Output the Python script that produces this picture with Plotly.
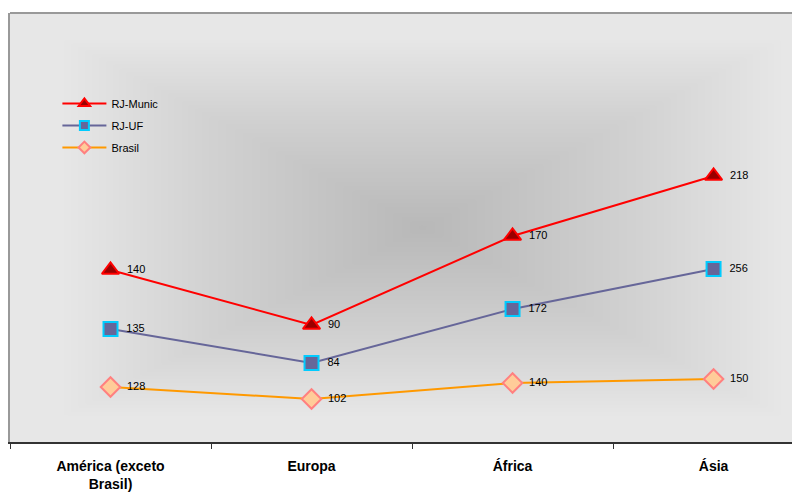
import numpy as np
import plotly.graph_objects as go

categories = ["América (exceto<br>Brasil)", "Europa", "África", "Ásia"]
series_names = ["RJ-Munic", "RJ-UF", "Brasil"]

# plotted heights (hidden axis units)
munic_y = [172, 117, 206, 266]
uf_y = [113, 79, 133, 173]
brasil_y = [55, 43, 59, 63]

# data labels shown
munic_labels = [140, 90, 170, 218]
uf_labels = [135, 84, 172, 256]
brasil_labels = [128, 102, 140, 150]

x = list(range(len(categories)))
XR = [-0.5, 3.43]
YR = [0, 429]

fig = go.Figure()

# gradient background (rectangular "from center" gradient)
gx = np.linspace(XR[0], XR[1], 220)
gy = np.linspace(YR[0], YR[1], 140)
GX, GY = np.meshgrid(gx, gy)
cx, cy = 1.55, 215
hw, hh = 1.8, 190
d = np.maximum(np.abs(GX - cx) / hw, np.abs(GY - cy) / hh)
d = np.clip(d, 0, 1)
fig.add_trace(go.Heatmap(
    x=gx, y=gy, z=d, zmin=0, zmax=1, zsmooth="best", showscale=False,
    colorscale=[[0, "#b8b8b8"], [0.6, "#d2d2d2"], [1, "#e7e7e7"]],
    hoverinfo="skip", showlegend=False,
))

font_lbl = dict(family="Liberation Sans, Arial", size=11, color="black")
pad = "\u00a0\u00a0"

def add_series(yv, labels, name, lcolor, symbol, fill, mline, size, lsize):
    fig.add_trace(go.Scatter(
        x=x, y=yv, name=name, mode="lines+markers+text", showlegend=False,
        text=[pad + str(v) for v in labels], textposition="middle right",
        textfont=font_lbl,
        line=dict(color=lcolor, width=2),
        marker=dict(symbol=symbol, size=size, color=fill,
                    line=dict(color=mline, width=2)),
    ))
    # legend entry with smaller marker
    fig.add_trace(go.Scatter(
        x=[None], y=[None], name=name, legendgroup=name, mode="lines+markers",
        line=dict(color=lcolor, width=2),
        marker=dict(symbol=symbol, size=lsize, color=fill,
                    line=dict(color=mline, width=2)),
    ))

add_series(munic_y, munic_labels, series_names[0], "#ff0000", "triangle-up", "#990000", "#ff0000", 15, 10)
add_series(uf_y, uf_labels, series_names[1], "#666699", "square", "#666699", "#00ccff", 14, 9)
add_series(brasil_y, brasil_labels, series_names[2], "#ff9900", "diamond", "#ffcc99", "#ff8080", 15, 9)

fig.update_layout(
    width=800, height=494,
    margin=dict(l=2, r=8, t=5, b=60, autoexpand=False),
    paper_bgcolor="white", plot_bgcolor="#e7e7e7",
    showlegend=True,
    legend=dict(x=0.06, y=0.823, xanchor="left", yanchor="top",
                bgcolor="rgba(0,0,0,0)", tracegroupgap=3,
                font=dict(family="Liberation Sans, Arial", size=11, color="black"),
                itemwidth=44),
    hovermode=False,
    xaxis=dict(range=XR, tickmode="array", tickvals=x, ticktext=categories,
               ticks="", showgrid=False, zeroline=False,
               showline=True, linecolor="#333333", linewidth=2,
               tickfont=dict(family="Liberation Sans, Arial", size=14, color="black", weight="bold"),
               minor=dict(tick0=-0.5, dtick=1, ticks="outside", ticklen=5,
                          tickcolor="#333333", showgrid=False),
               ticklabelstandoff=10),
    yaxis=dict(range=YR, showticklabels=False, ticks="", showgrid=False,
               zeroline=False, showline=True, linecolor="#999999", linewidth=2),
    shapes=[dict(type="line", xref="paper", yref="paper", x0=0, x1=1, y0=1, y1=1,
                 line=dict(color="#999999", width=2))],
)

fig.write_html("out.html")
